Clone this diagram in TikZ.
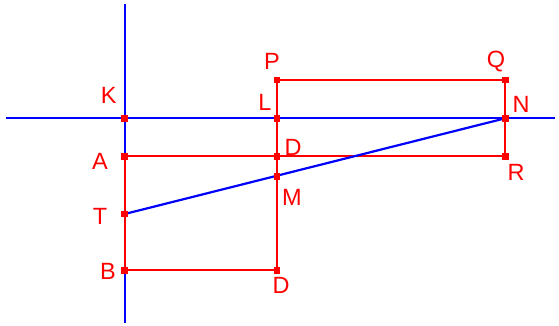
\documentclass[tikz,border=0pt]{standalone}
\usepackage{fontspec}
\setmainfont{Liberation Sans}
\begin{document}
\begin{tikzpicture}[x=1pt,y=-1pt,
  redline/.style={draw=red,line width=2.2pt},
  blueline/.style={draw=blue,line width=2.2pt},
  dot/.style={fill=red,minimum size=6.5pt,inner sep=0pt,draw=none,rectangle},
  lbl/.style={text=red,font=\fontsize{23.5}{23.5}\selectfont,inner sep=0pt}]
\useasboundingbox (0,0) rectangle (559,326);
% points
\coordinate (K) at (124.7,118.3);
\coordinate (A) at (124.7,156.3);
\coordinate (T) at (124.7,214);
\coordinate (B) at (124.7,270.3);
\coordinate (L) at (277,118.3);
\coordinate (P) at (277,80);
\coordinate (D) at (277,156.3);
\coordinate (M) at (277,176.5);
\coordinate (D2) at (277,270.3);
\coordinate (Q) at (505.3,80);
\coordinate (N) at (505.3,118.3);
\coordinate (R) at (505.3,156.3);
\coordinate (Vt) at (124.7,4);
\coordinate (Vb) at (124.7,322.7);
\coordinate (Hl) at (6,118.3);
\coordinate (Hr) at (555,118.3);
% axes
\draw[blueline] (Vt) -- (Vb);
\draw[blueline] (Hl) -- (Hr);
% red figure
\draw[redline] (A) -- (B) -- (D2) -- (P) -- (Q) -- (N) -- (R) -- (A);
% blue segment
\draw[blueline] (T) -- (N);
% dots
\foreach \p in {K,A,T,B,L,P,D,M,D2,Q,N,R} \node[dot] (dot\p) at (\p) {};
% labels
\node[lbl] (lK) at (108.7,95) {K};
\node[lbl] (lP) at (272,61.7) {P};
\node[lbl] (lL) at (265,102.5) {L};
\node[lbl] (lD) at (293,147) {D};
\node[lbl] (lA) at (100,161) {A};
\node[lbl] (lM) at (292,197.5) {M};
\node[lbl] (lT) at (100,216) {T};
\node[lbl] (lB) at (108,271) {B};
\node[lbl] (lD2) at (281,285) {D};
\node[lbl] (lQ) at (496,62) {Q};
\node[lbl] (lN) at (521,104) {N};
\node[lbl] (lR) at (516,172.5) {R};
\end{tikzpicture}
\end{document}
